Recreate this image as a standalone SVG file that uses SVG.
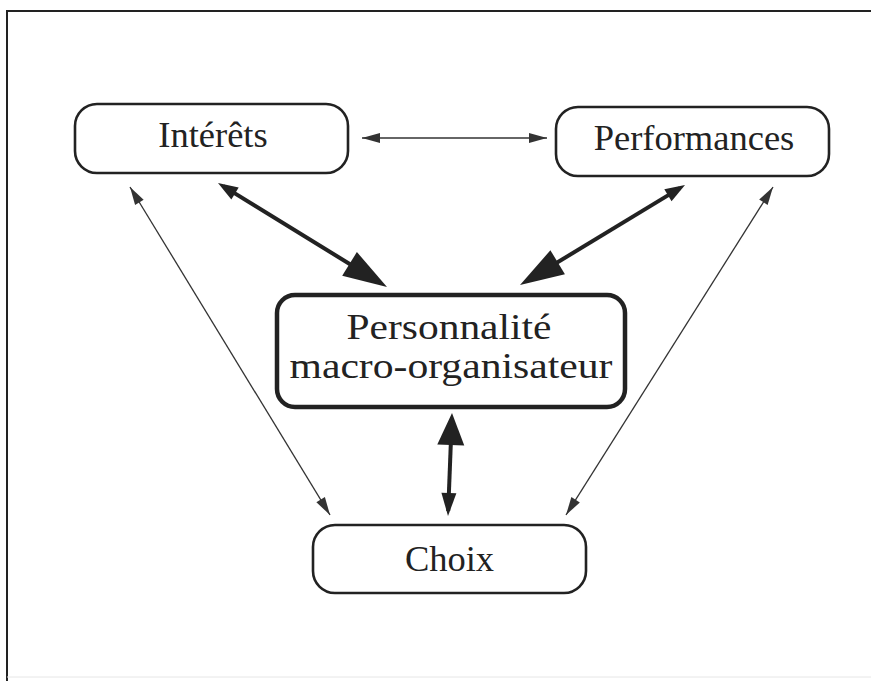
<svg xmlns="http://www.w3.org/2000/svg" width="871" height="681" viewBox="0 0 871 681">
<style>
.box{fill:#fff;stroke:#222;stroke-width:2.6}
.main{fill:#fff;stroke:#222;stroke-width:4.5}
.t{font-family:"Liberation Serif","Times New Roman",serif;fill:#222;text-anchor:middle}
.thin{stroke:#333;stroke-width:1.3;fill:none}
.thick{stroke:#222;stroke-width:4;fill:none}
.frame{stroke:#222;stroke-width:2;fill:none}
</style>
<defs>
<marker id="mThin" markerUnits="userSpaceOnUse" markerWidth="18" markerHeight="10" refX="18" refY="5" orient="auto-start-reverse" overflow="visible"><path d="M0,0 L18,5 L0,10 z" fill="#333"/></marker>
<marker id="mSmall" markerUnits="userSpaceOnUse" markerWidth="20" markerHeight="14" refX="14" refY="7" orient="auto-start-reverse" overflow="visible"><path d="M0,0 L20,7 L0,14 z" fill="#222"/></marker>
<marker id="mLarge" markerUnits="userSpaceOnUse" markerWidth="44" markerHeight="28" refX="32" refY="14" orient="auto-start-reverse" overflow="visible"><path d="M0,0 L44,14 L0,28 z" fill="#222"/></marker>
<marker id="mVTop" markerUnits="userSpaceOnUse" markerWidth="32" markerHeight="27" refX="24" refY="13.5" orient="auto-start-reverse" overflow="visible"><path d="M0,0 L32,13.5 L0,27 z" fill="#222"/></marker>
<marker id="mVBot" markerUnits="userSpaceOnUse" markerWidth="23" markerHeight="15" refX="18" refY="7.5" orient="auto-start-reverse" overflow="visible"><path d="M0,0 L23,7.5 L0,15 z" fill="#222"/></marker>
</defs>
<rect width="871" height="681" fill="#fff"/>
<g id="frame">
<path class="frame" d="M7,681 L7,11 L871,11"/>
<path d="M7,677 L871,677" stroke="#e6e6e6" stroke-width="1"/>
</g>
<g id="connectors">
<line class="thin" x1="362" y1="138" x2="547" y2="138" marker-start="url(#mThin)" marker-end="url(#mThin)"/>
<line class="thin" x1="130" y1="187" x2="330" y2="515" marker-start="url(#mThin)" marker-end="url(#mThin)"/>
<line class="thin" x1="773" y1="187" x2="566" y2="515" marker-start="url(#mThin)" marker-end="url(#mThin)"/>
<line class="thick" x1="223.1" y1="186.1" x2="376.8" y2="280.7" marker-start="url(#mSmall)" marker-end="url(#mLarge)"/>
<line class="thick" x1="679.9" y1="188.1" x2="530.3" y2="278.8" marker-start="url(#mSmall)" marker-end="url(#mLarge)"/>
<line class="thick" x1="448.2" y1="511" x2="451.7" y2="421" marker-start="url(#mVBot)" marker-end="url(#mVTop)"/>
</g>
<g id="interets">
<rect class="box" x="75" y="104" width="273" height="69" rx="22"/>
<text class="t" x="213" y="147" font-size="36.5">Intérêts</text>
</g>
<g id="performances">
<rect class="box" x="556" y="107" width="273" height="69" rx="22"/>
<text class="t" x="694" y="150" font-size="36.5">Performances</text>
</g>
<g id="personnalite">
<rect class="main" x="277" y="295" width="348" height="112" rx="18"/>
<text class="t" x="449" y="339" font-size="35" textLength="205" lengthAdjust="spacingAndGlyphs">Personnalité</text>
<text class="t" x="451" y="378" font-size="35" textLength="323" lengthAdjust="spacingAndGlyphs">macro-organisateur</text>
</g>
<g id="choix">
<rect class="box" x="313" y="525" width="273" height="68" rx="22"/>
<text class="t" x="449.5" y="571" font-size="36.5">Choix</text>
</g>
</svg>
